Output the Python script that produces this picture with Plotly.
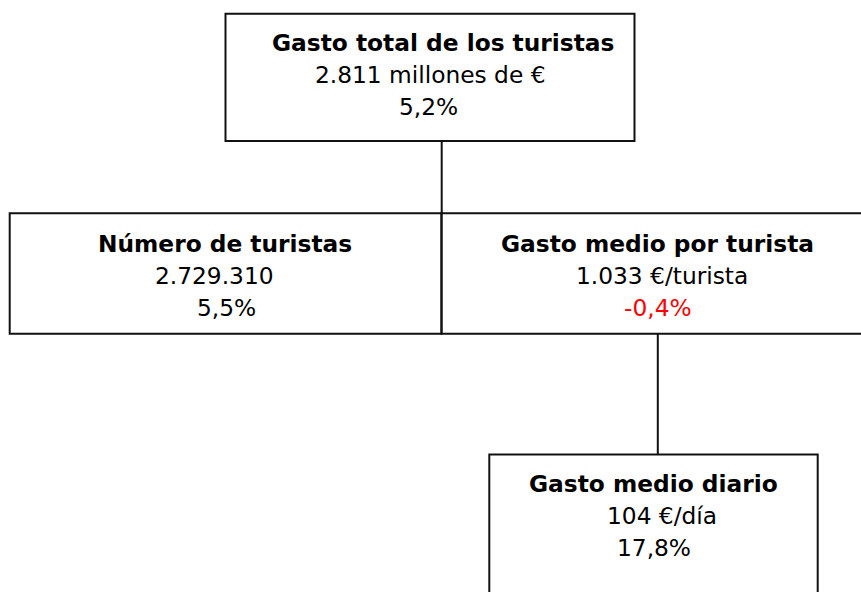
import plotly.graph_objects as go

# ---- data ----
node_titles = ["Gasto total de los turistas", "Número de turistas",
               "Gasto medio por turista", "Gasto medio diario"]
node_values = ["2.811 millones de €", "2.729.310", "1.033 €/turista", "104 €/día"]
node_changes = [5.2, 5.5, -0.4, 17.8]

def fmt_pct(v):
    return ("%.1f" % v).replace(".", ",") + "%"

# ---- layout (pixel coordinates, y downward) ----
W, H = 861, 592
boxes = [  # x0, y0, x1, y1
    (225.5, 13.7, 634.5, 141),
    (9.7, 213.3, 441.5, 333.7),
    (441.5, 213.3, 863, 333.7),
    (489.3, 454.5, 817.7, 600),
]
connectors = [  # x, y0, y1
    (441.7, 141, 213.3),
    (657.8, 333.7, 454.5),
]
# text line centres: (title_x, value_x, change_x, title_baseline)
text_pos = [
    (442.5, 430, 428, 51),
    (225, 214, 226, 252),
    (657.5, 662, 657.5, 252),
    (653, 661.5, 654, 492),
]
line_gap = 31.7
fs = 23.3
font_family = "DejaVu Sans"

fig = go.Figure()
fig.add_trace(go.Scatter(x=[0, W], y=[0, H], mode="markers",
                         marker=dict(opacity=0), hoverinfo="skip", showlegend=False))

shapes = []
for (x0, y0, x1, y1) in boxes:
    shapes.append(dict(type="rect", xref="x", yref="y", x0=x0, y0=y0, x1=x1, y1=y1,
                       line=dict(color="#111111", width=2), fillcolor="rgba(0,0,0,0)"))
for (x, y0, y1) in connectors:
    shapes.append(dict(type="line", xref="x", yref="y", x0=x, x1=x, y0=y0, y1=y1,
                       line=dict(color="#111111", width=2)))

annotations = []
for i, (tx, vx, cx, base) in enumerate(text_pos):
    off = 0.36 * fs
    lines = [
        (tx, base, "<b>%s</b>" % node_titles[i], "black"),
        (vx, base + line_gap, node_values[i], "black"),
        (cx, base + 2 * line_gap, fmt_pct(node_changes[i]),
         "red" if node_changes[i] < 0 else "black"),
    ]
    for (x, b, txt, col) in lines:
        annotations.append(dict(x=x, y=b - off, xref="x", yref="y", text=txt,
                                showarrow=False, xanchor="center", yanchor="middle",
                                font=dict(family=font_family, size=fs, color=col)))

fig.update_layout(
    width=W, height=H, margin=dict(l=0, r=0, t=0, b=0),
    paper_bgcolor="white", plot_bgcolor="white",
    xaxis=dict(range=[0, W], visible=False, fixedrange=True),
    yaxis=dict(range=[H, 0], visible=False, fixedrange=True),
    shapes=shapes, annotations=annotations, showlegend=False,
)
fig.write_html("out.html", config={"displayModeBar": False},
               post_script="document.body.style.margin='0';document.body.style.overflow='hidden';")
